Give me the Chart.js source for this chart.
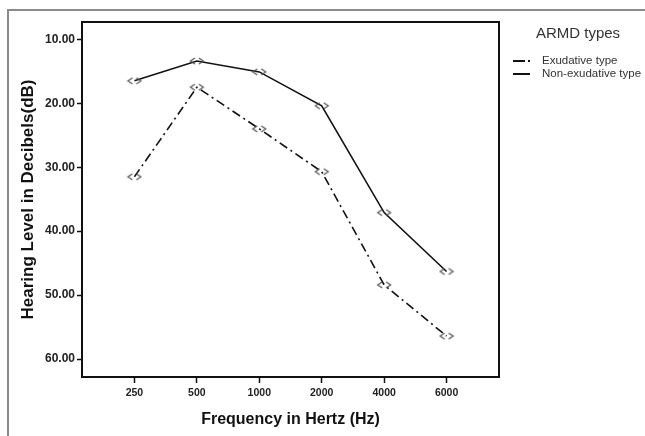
<!DOCTYPE html>
<html>
<head>
<meta charset="utf-8">
<title>ARMD hearing levels</title>
<script src="https://cdn.jsdelivr.net/npm/chart.js@4.4.0/dist/chart.umd.min.js"></script>
<style>
  body { margin: 0; background: #fff; }
  #wrap { position: relative; width: 645px; height: 436px; }
  #frame { position: absolute; left: 7px; top: 9px; right: 0; bottom: 0;
           border-left: 2px solid #8a8a8a; border-top: 2px solid #8a8a8a; }
  canvas { position: absolute; left: 0; top: 0; }
</style>
</head>
<body>
<div id="wrap">
  <div id="frame"></div>
  <canvas id="myChart" width="645" height="436"></canvas>
</div>
<script>
// frequencies on x axis
var freqLabels = ['250', '500', '1000', '2000', '4000', '6000'];
// mean hearing level (dB) per group
var exudative = [16.5, 13.4, 15.1, 20.4, 37.1, 46.3];
var nonExudative = [31.5, 17.5, 24.0, 30.7, 48.4, 56.4];
var yTicks = [10, 20, 30, 40, 50, 60];
var legendTitle = 'ARMD types';

var FONT = '"Liberation Sans", Arial, sans-serif';

// "<>" marker like the SPSS plot
function makeMarker() {
    var c = document.createElement('canvas');
    c.width = 16; c.height = 10;
    var g = c.getContext('2d');
    g.strokeStyle = '#555';
    g.lineWidth = 1.2;
    g.beginPath();
    g.moveTo(6, 2); g.lineTo(1.5, 5); g.lineTo(6, 8);
    g.moveTo(10, 2); g.lineTo(14.5, 5); g.lineTo(10, 8);
    g.stroke();
    return c;
}
var marker = makeMarker();

function toPoints(arr) {
    return arr.map(function (v, i) { return { x: i, y: v }; });
}

// box around the plot area + legend on the right
var extras = {
    id: 'extras',
    afterDraw: function (chart) {
        var a = chart.chartArea, ctx = chart.ctx;
        ctx.save();
        ctx.strokeStyle = '#111';
        ctx.lineWidth = 2;
        ctx.strokeRect(a.left, a.top, a.right - a.left, a.bottom - a.top);

        // legend
        var x0 = a.right + 14;
        ctx.fillStyle = '#333';
        ctx.font = '15px ' + FONT;
        ctx.textAlign = 'center';
        ctx.textBaseline = 'middle';
        ctx.fillText(legendTitle, 578, 34);
        ctx.textAlign = 'left';
        ctx.font = '11.5px ' + FONT;
        chart.data.datasets.forEach(function (ds, i) {
            var y = 61 + i * 13;
            ctx.strokeStyle = ds.borderColor;
            ctx.lineWidth = 2;
            ctx.setLineDash(i === 0 ? [12, 3, 2, 10] : [20, 0]);
            ctx.beginPath();
            ctx.moveTo(x0, y);
            ctx.lineTo(x0 + (i === 0 ? 20 : 17), y);
            ctx.stroke();
            ctx.setLineDash([]);
            ctx.fillText(ds.label, x0 + 29, y);
        });
        ctx.restore();
    }
};

var ctx = document.getElementById('myChart').getContext('2d');
var chart = new Chart(ctx, {
    type: 'line',
    data: {
        datasets: [{
            label: 'Exudative type',
            data: toPoints(exudative),
            borderColor: '#111',
            backgroundColor: '#111',
            borderWidth: 1.6,
            pointStyle: marker,
            tension: 0
        }, {
            label: 'Non-exudative type',
            data: toPoints(nonExudative),
            borderColor: '#111',
            backgroundColor: '#111',
            borderWidth: 1.6,
            borderDash: [9, 4, 2, 4],
            pointStyle: marker,
            tension: 0
        }]
    },
    plugins: [extras],
    options: {
        responsive: false,
        animation: false,
        layout: { padding: { top: 22, left: 14, right: 146, bottom: 0 } },
        plugins: {
            tooltip: { enabled: false },
            legend: { display: false }
        },
        scales: {
            x: {
                type: 'linear',
                min: -0.84,
                max: 5.84,
                afterBuildTicks: function (axis) {
                    axis.ticks = freqLabels.map(function (_, i) { return { value: i }; });
                },
                afterFit: function (axis) { axis.height = 59; },
                ticks: {
                    color: '#222',
                    font: { family: FONT, size: 10.5, weight: 'bold' },
                    callback: function (v) { return freqLabels[v]; },
                    padding: 4
                },
                grid: { drawOnChartArea: false, drawTicks: true, tickLength: 6, tickColor: '#111', tickWidth: 1.5 },
                border: { display: true, color: '#111', width: 2 },
                title: {
                    display: true,
                    text: 'Frequency in Hertz (Hz)',
                    color: '#111',
                    font: { family: FONT, size: 16, weight: 'bold' },
                    padding: { top: 4, bottom: 7 }
                }
            },
            y: {
                reverse: true,
                min: 7.3,
                max: 62.8,
                afterBuildTicks: function (axis) {
                    axis.ticks = yTicks.map(function (v) { return { value: v }; });
                },
                afterFit: function (axis) { axis.width = 68; },
                ticks: {
                    color: '#222',
                    font: { family: FONT, size: 12, weight: 'bold' },
                    callback: function (v) { return v.toFixed(2); },
                    padding: 2
                },
                grid: { drawOnChartArea: false, drawTicks: true, tickLength: 5, tickColor: '#111', tickWidth: 1.5 },
                border: { display: true, color: '#111', width: 2 },
                title: {
                    display: true,
                    text: 'Hearing Level in Decibels(dB)',
                    color: '#111',
                    font: { family: FONT, size: 17, weight: 'bold' },
                    padding: { top: 4, bottom: 4 }
                }
            }
        }
    }
});
</script>
</body>
</html>
